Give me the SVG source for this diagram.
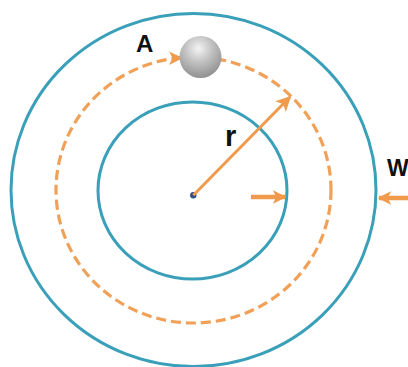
<svg xmlns="http://www.w3.org/2000/svg" width="408" height="367" viewBox="0 0 408 367">
<style>
.ring{fill:none;stroke:#3a9fb8;stroke-width:3}
.orbit{fill:none;stroke:#f0a057;stroke-width:3.2;stroke-dasharray:10 5}
.arr{stroke:#f09a4c;fill:none}
.lbl{font-family:"Liberation Sans",Arial,sans-serif;font-weight:bold;fill:#111}
</style>
<defs>
<marker id="ah" viewBox="0 0 10 10" refX="9" refY="5" markerWidth="5" markerHeight="5" orient="auto" markerUnits="strokeWidth">
<path d="M0,0 L10,5 L0,10 L2.5,5 Z" fill="#f09a4c"/>
</marker>
<marker id="ah2" viewBox="0 0 10 10" refX="9" refY="5" markerWidth="3" markerHeight="3.3" orient="auto" markerUnits="strokeWidth">
<path d="M0,0 L10,5 L0,10 L2.5,5 Z" fill="#f09a4c"/>
</marker>
<radialGradient id="ballg" cx="0.45" cy="0.3" r="0.75">
<stop offset="0" stop-color="#f4f4f4"/>
<stop offset="0.45" stop-color="#c0c0c0"/>
<stop offset="1" stop-color="#8a8a8a"/>
</radialGradient>
</defs>
<rect width="408" height="367" fill="#ffffff"/>
<g id="outer-ring"><ellipse class="ring" cx="193.5" cy="190" rx="182.5" ry="176.5"/></g>
<g id="orbit"><ellipse class="orbit" cx="193.5" cy="190" rx="137.5" ry="133"/>
<path d="M183,58 L169,51.5 L172.5,58 L169,65 Z" fill="#f09a4c"/></g>
<g id="inner-ring"><ellipse class="ring" cx="192.5" cy="190.5" rx="94.5" ry="88.5"/></g>
<g id="ball"><circle cx="200.5" cy="57" r="21" fill="url(#ballg)"/></g>
<g id="center"><circle cx="193.3" cy="195.3" r="3.2" fill="#2c4d86"/></g>
<g id="connectors">
<line class="arr" x1="193.3" y1="195.3" x2="290" y2="97" stroke-width="3" marker-end="url(#ah)"/>
<line class="arr" x1="251" y1="197" x2="285" y2="197" stroke-width="4.5" marker-end="url(#ah2)"/>
<line class="arr" x1="410" y1="198" x2="379" y2="198" stroke-width="4.5" marker-end="url(#ah2)"/>
</g>
<g id="label-A"><text class="lbl" x="136" y="52" font-size="24">A</text></g>
<g id="label-r"><text class="lbl" x="225" y="146" font-size="29">r</text></g>
<g id="label-W"><text class="lbl" x="387" y="176" font-size="23">W</text></g>
</svg>
